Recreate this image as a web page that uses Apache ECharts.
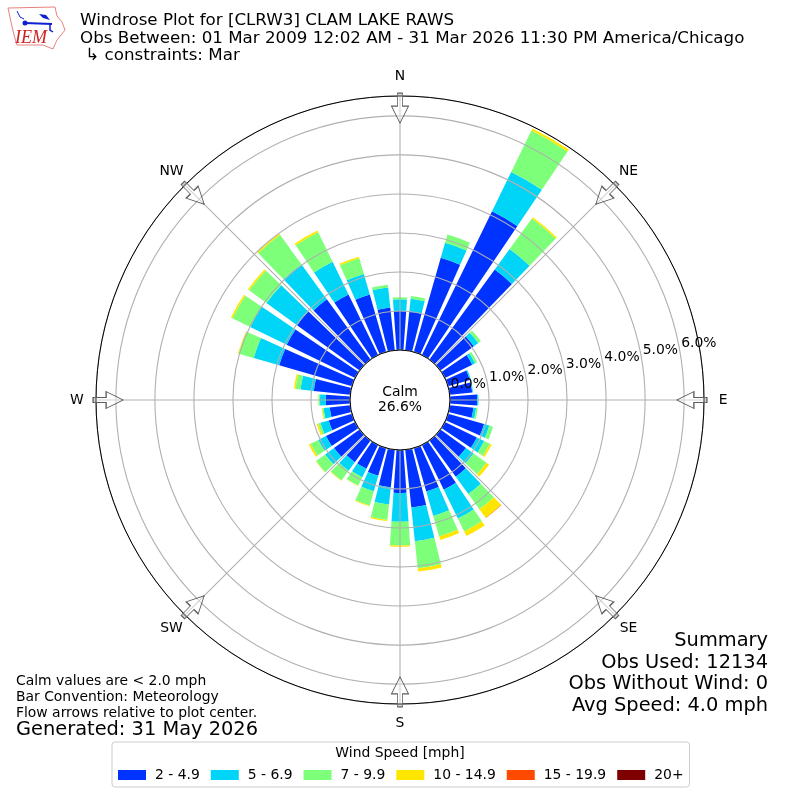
<!DOCTYPE html>
<html><head><meta charset="utf-8">
<style>html,body{margin:0;padding:0;background:#fff}#c{width:800px;height:800px}</style>
<script src="https://cdn.jsdelivr.net/npm/echarts@6/dist/echarts.min.js"></script>
</head><body><div id="c"></div>
<script>
const directions = [0,10,20,30,40,50,60,70,80,90,100,110,120,130,140,150,160,170,180,190,200,210,220,230,240,250,260,270,280,290,300,310,320,330,340,350];
const speedBins = ['2 - 4.9','5 - 6.9','7 - 9.9','10 - 14.9','15 - 19.9','20+'];
const binColors = ['#0033ff','#00d5f8','#7dff7a','#ffe600','#ff4a00','#7f0000'];
const s2to5  = [1.00,1.00,2.51,4.10,2.85,1.06,.78,.58,.58,.70,.61,.96,.91,.81,1.15,1.28,1.16,1.49,1.10,.97,.74,.68,.69,.81,.83,.62,.53,.62,.94,1.94,1.95,1.98,1.91,1.73,1.53,1.10];
const s5to7  = [.30,.33,.40,1.12,.65,.14,.08,.03,.02,.03,.07,.14,.21,.24,.55,.82,.65,.87,.74,.44,.41,.24,.27,.28,.22,.22,.16,.15,.34,.68,1.04,.97,1.11,.93,.55,.52];
const s7to10 = [.05,.07,.22,1.18,.97,.08,.06,0,0,.01,.04,.10,.16,.41,.48,.37,.55,.70,.61,.40,.38,.24,.31,.29,.22,.06,.03,.04,.13,.40,.51,.55,.93,.84,.42,.07];
const s10to15= [0,0,0,.06,.04,0,0,0,0,0,0,0,.05,.08,.27,.13,.09,.08,.03,.03,.02,.01,.01,.01,.05,.04,.02,0,.04,.02,.04,.04,.04,.05,.04,0];
const s15to20= [0,0,0,0,0,0,0,0,0,0,0,0,0,0,.01,0,0,0,0,0,0,0,0,0,0,0,0,0,0,0,0,0,0,0,0,0];
const s20up  = [0,0,0,0,0,0,0,0,0,0,0,0,0,0,0,0,0,0,0,0,0,0,0,0,0,0,0,0,0,0,0,0,0,0,0,0];
const compassLabels = ['N','NE','E','SE','S','SW','W','NW'];
const compassAngles = [0,45,90,135,180,225,270,315];
const radiusTicks = [0,1,2,3,4,5,6];

const FONT = '"DejaVu Sans"';
const seriesValues = [s2to5,s5to7,s7to10,s10to15,s15to20,s20up];
const txt = (text,x,y,size,align) => ({type:'text',z:100,silent:true,style:{text,x,y:y+1,fontSize:size,fontFamily:FONT,fill:'#000',textAlign:align||'left',textVerticalAlign:'middle'}});
const polarBox = {center:[400,400],radius:[50,304]};
const arrowPath = 'path://M6 0H11V13H17L8.5 30L0 13H6Z';
const plainLabel = {fontSize:13.9,color:'#000',opacity:1,fontFamily:FONT,textBorderWidth:0,textShadowBlur:0};

const option = {
  animation:false,
  textStyle:{fontFamily:FONT},
  polar:[polarBox,polarBox],
  angleAxis:[
    {polarIndex:0,type:'category',data:directions,startAngle:95,clockwise:true,show:false},
    {polarIndex:1,type:'value',min:0,max:360,interval:45,startAngle:90,clockwise:true,z:6,
     axisLine:{show:true,lineStyle:{color:'#000',width:1}},
     axisTick:{show:false},axisLabel:{show:false},
     splitLine:{show:true,lineStyle:{color:'#b0b0b0',width:1.1}}}
  ],
  radiusAxis:[
    {polarIndex:0,type:'value',min:0,max:6.51,show:false},
    {polarIndex:1,type:'value',min:0,max:6.51,interval:1,z:5,
     axisLine:{show:false},axisTick:{show:false},axisLabel:{show:false},
     splitLine:{show:true,lineStyle:{color:'#b0b0b0',width:1.1}}}
  ],
  legend:{left:112,top:742,width:640,selectedMode:false,itemWidth:28,itemHeight:10,itemGap:11,
    padding:[26,6,5,6],backgroundColor:'#fff',borderColor:'#ccc',borderWidth:1,borderRadius:3,
    icon:'rect',textStyle:{fontSize:13.9,color:'#000',fontFamily:FONT,padding:[0,0,0,4]},data:speedBins},
  series:[
    ...speedBins.map((name,i)=>({name,type:'bar',coordinateSystem:'polar',polarIndex:0,stack:'wind',barWidth:'80%',
      itemStyle:{color:binColors[i]},data:seriesValues[i],silent:true,z:2})),
    {type:'scatter',coordinateSystem:'polar',polarIndex:1,silent:true,z:8,symbol:arrowPath,symbolSize:[17,30],
     itemStyle:{color:'rgba(255,255,255,0.55)',borderColor:'#333',borderWidth:1},
     data:compassAngles.map(a=>({value:[6.2,a],symbolRotate:-a}))},
    {type:'scatter',coordinateSystem:'polar',polarIndex:1,silent:true,z:8,clip:false,symbol:'rect',symbolSize:[6,2],
     itemStyle:{color:'#777'},
     data:compassAngles.map(a=>({value:[6.52,a],symbolRotate:-a}))},
    {type:'scatter',coordinateSystem:'polar',polarIndex:1,silent:true,z:9,clip:false,symbolSize:1,
     itemStyle:{color:'rgba(0,0,0,0)'},
     label:{show:true,position:'inside',...plainLabel,formatter:p=>compassLabels[p.dataIndex]},
     data:compassAngles.map(a=>[7.0,a])},
    {type:'scatter',coordinateSystem:'polar',polarIndex:1,silent:true,z:9,symbolSize:1,
     itemStyle:{color:'rgba(0,0,0,0)'},
     label:{show:true,position:'inside',offset:[19,-7],...plainLabel,formatter:p=>p.value[0].toFixed(1)+'%'},
     data:radiusTicks.map(v=>[v,80])}
  ],
  graphic:[
    {type:'polygon',z:100,silent:true,shape:{points:[[8,8],[55,7],[57,16],[62,22],[65,30],[57,40],[53,49],[43,45],[17,45],[14,35],[11,22]]},style:{fill:'#fff',stroke:'#e88080',lineWidth:1}},
    {type:'line',z:100,silent:true,shape:{x1:25,y1:23,x2:52,y2:24},style:{stroke:'#1020d0',lineWidth:2}},
    {type:'circle',z:100,silent:true,shape:{cx:25,cy:23,r:2.5},style:{fill:'#1020d0'}},
    {type:'polygon',z:100,silent:true,shape:{points:[[39,14],[46,15],[50,20],[43,18]]},style:{fill:'#1020d0'}},
    {type:'polyline',z:100,silent:true,shape:{points:[[17,11],[20,17],[24,19]]},style:{stroke:'#1020d0',lineWidth:1,fill:'none'}},
    {type:'polyline',z:100,silent:true,shape:{points:[[50,24],[50,30],[53,32]]},style:{stroke:'#1020d0',lineWidth:1.5,fill:'none'}},
    {type:'text',z:101,silent:true,style:{text:'IEM',x:31,y:38,fontSize:18,fontStyle:'italic',fontFamily:'"Liberation Serif"',fill:'#d02020',textAlign:'center',textVerticalAlign:'middle'}},
    txt('Windrose Plot for [CLRW3] CLAM LAKE RAWS',80,20,16.7),
    txt('Obs Between: 01 Mar 2009 12:02 AM - 31 Mar 2026 11:30 PM America/Chicago',80,37.5,16.7),
    txt(' ↳ constraints: Mar',80,55,16.7),
    txt('Calm',400,391,13.9,'center'),
    txt('26.6%',400,406,13.9,'center'),
    txt('Summary',768,640,19.4,'right'),
    txt('Obs Used: 12134',768,662,19.4,'right'),
    txt('Obs Without Wind: 0',768,683,19.4,'right'),
    txt('Avg Speed: 4.0 mph',768,705,19.4,'right'),
    txt('Calm values are < 2.0 mph',16,680,13.9),
    txt('Bar Convention: Meteorology',16,696.5,13.9),
    txt('Flow arrows relative to plot center.',16,712.5,13.9),
    txt('Generated: 31 May 2026',16,729,19.4),
    txt('Wind Speed [mph]',400,752,13.9,'center')
  ]
};
const chart = echarts.init(document.getElementById('c'),null,{renderer:'canvas',width:800,height:800});
chart.setOption(option);
</script></body></html>
